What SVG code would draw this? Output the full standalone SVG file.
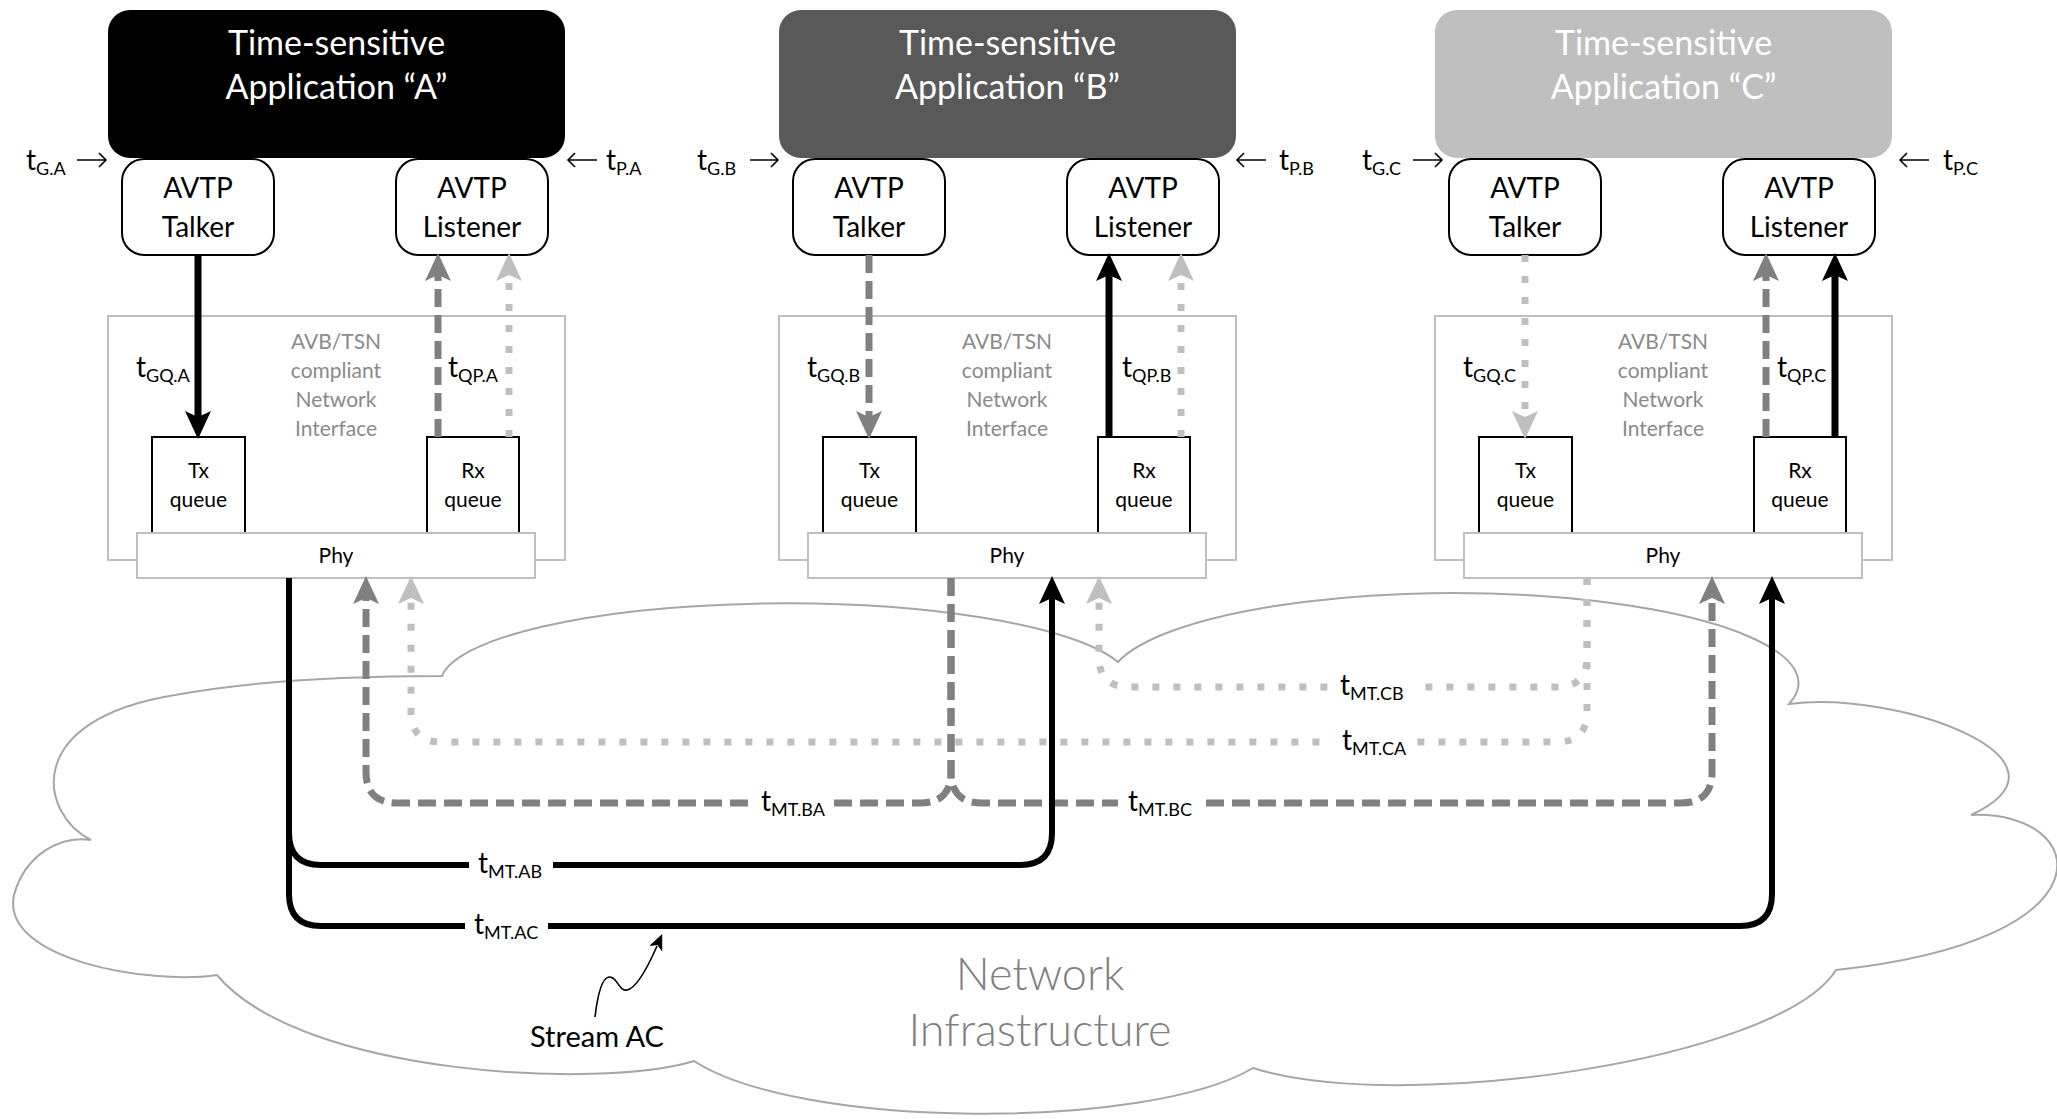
<svg xmlns="http://www.w3.org/2000/svg" width="2057" height="1119" viewBox="0 0 2057 1119">
  <defs>
    <style>
      text { font-family: Lato, "Liberation Sans", sans-serif; }
      .app { stroke: none; }
      .title { font-size: 34px; fill: #ffffff; text-anchor: middle; }
      .avtp { fill: #ffffff; stroke: #000000; stroke-width: 2; }
      .avtp-t { font-size: 28px; fill: #000000; text-anchor: middle; }
      .nic { fill: #ffffff; stroke: #bfbfbf; stroke-width: 2; }
      .nic-t { font-size: 21px; fill: #8a8a8a; text-anchor: middle; }
      .queue { fill: #ffffff; stroke: #000000; stroke-width: 2; }
      .phy { fill: #ffffff; stroke: #bfbfbf; stroke-width: 2; }
      .small-t { font-size: 21px; fill: #000000; text-anchor: middle; }
      .tl { font-size: 28px; fill: #000000; }
      .sub { font-size: 18px; }
      .cloud { fill: #ffffff; stroke: #a6a6a6; stroke-width: 2; }
      .net-t { font-size: 45px; font-weight: 300; fill: #808080; text-anchor: middle; }
      .stream-t { font-size: 29px; fill: #000000; text-anchor: middle; }
      .solid { fill: none; stroke: #000000; stroke-width: 7; marker-end: url(#ahBlack); }
      .solid-n { fill: none; stroke: #000000; stroke-width: 6; marker-end: url(#ahBlack); }
      .dashed { fill: none; stroke: #808080; stroke-width: 7; stroke-dasharray: 18 8; marker-end: url(#ahDark); }
      .dotted { fill: none; stroke: #bfbfbf; stroke-width: 7; stroke-dasharray: 7 14; marker-end: url(#ahLight); }
      .tick { fill: none; stroke: #000000; stroke-width: 1.6; }
      .lbl-bg { fill: #ffffff; stroke: none; }
    </style>
    <marker id="ahBlack" markerUnits="userSpaceOnUse" markerWidth="28" markerHeight="28" viewBox="0 0 28 28" refX="10" refY="14" orient="auto">
      <path d="M0,1 L28,14 L0,27 L6,14 z" fill="#000000"/>
    </marker>
    <marker id="ahDark" markerUnits="userSpaceOnUse" markerWidth="28" markerHeight="28" viewBox="0 0 28 28" refX="10" refY="14" orient="auto">
      <path d="M0,1 L28,14 L0,27 L6,14 z" fill="#808080"/>
    </marker>
    <marker id="ahLight" markerUnits="userSpaceOnUse" markerWidth="28" markerHeight="28" viewBox="0 0 28 28" refX="10" refY="14" orient="auto">
      <path d="M0,1 L28,14 L0,27 L6,14 z" fill="#bfbfbf"/>
    </marker>
    <marker id="ahSmall" markerUnits="userSpaceOnUse" markerWidth="16" markerHeight="14" viewBox="0 0 16 14" refX="3" refY="7" orient="auto">
      <path d="M0,0 L16,7 L0,14 L4,7 z" fill="#000000"/>
    </marker>
  </defs>

  <rect x="0" y="0" width="2057" height="1119" fill="#ffffff"/>

  <!-- network cloud -->
  <g id="network">
    <path class="cloud" d="M442,676 A345,80 0 0 1 1118,662 A345,90 0 0 1 1789,704 C1900,690 2090,760 1971,815 C2090,810 2120,940 1836,970 C1780,1060 1400,1115 1253,1068 C1150,1130 800,1130 694,1061 C600,1090 300,1075 217,975 C150,985 0,960 14,895 C25,855 60,835 91,840 C40,815 20,720 175,695 C240,683 330,676 442,676 Z"/>
    <text class="net-t" x="1040" y="990">Network</text>
    <text class="net-t" x="1040" y="1046">Infrastructure</text>
  </g>

  <!-- ===== Application A ===== -->
  <g id="nic-a">
    <rect class="nic" x="108" y="316" width="457" height="244"/>
    <text class="nic-t" x="336" y="349">AVB/TSN</text>
    <text class="nic-t" x="336" y="378">compliant</text>
    <text class="nic-t" x="336" y="407">Network</text>
    <text class="nic-t" x="336" y="436">Interface</text>
  </g>
  <g id="txq-a">
    <rect class="queue" x="152" y="437" width="93" height="96"/>
    <text class="small-t" x="198.5" y="478">Tx</text>
    <text class="small-t" x="198.5" y="507">queue</text>
  </g>
  <g id="rxq-a">
    <rect class="queue" x="427" y="437" width="92" height="96"/>
    <text class="small-t" x="473" y="478">Rx</text>
    <text class="small-t" x="473" y="507">queue</text>
  </g>
  <g id="phy-a">
    <rect class="phy" x="137" y="533" width="398" height="45"/>
    <text class="small-t" x="336" y="563">Phy</text>
  </g>
  <g id="app-a">
    <rect class="app" x="108" y="10" width="457" height="148" rx="22" fill="#000000"/>
    <text class="title" x="336.5" y="55">Time-sensitive</text>
    <text class="title" x="336.5" y="99">Application “A”</text>
  </g>
  <g id="talker-a">
    <rect class="avtp" x="122" y="159" width="152" height="96" rx="22"/>
    <text class="avtp-t" x="198" y="198">AVTP</text>
    <text class="avtp-t" x="198" y="237">Talker</text>
  </g>
  <g id="listener-a">
    <rect class="avtp" x="396" y="159" width="152" height="96" rx="22"/>
    <text class="avtp-t" x="472" y="198">AVTP</text>
    <text class="avtp-t" x="472" y="237">Listener</text>
  </g>

  <!-- ===== Application B ===== -->
  <g id="nic-b">
    <rect class="nic" x="779" y="316" width="457" height="244"/>
    <text class="nic-t" x="1007" y="349">AVB/TSN</text>
    <text class="nic-t" x="1007" y="378">compliant</text>
    <text class="nic-t" x="1007" y="407">Network</text>
    <text class="nic-t" x="1007" y="436">Interface</text>
  </g>
  <g id="txq-b">
    <rect class="queue" x="823" y="437" width="93" height="96"/>
    <text class="small-t" x="869.5" y="478">Tx</text>
    <text class="small-t" x="869.5" y="507">queue</text>
  </g>
  <g id="rxq-b">
    <rect class="queue" x="1098" y="437" width="92" height="96"/>
    <text class="small-t" x="1144" y="478">Rx</text>
    <text class="small-t" x="1144" y="507">queue</text>
  </g>
  <g id="phy-b">
    <rect class="phy" x="808" y="533" width="398" height="45"/>
    <text class="small-t" x="1007" y="563">Phy</text>
  </g>
  <g id="app-b">
    <rect class="app" x="779" y="10" width="457" height="148" rx="22" fill="#595959"/>
    <text class="title" x="1007.5" y="55">Time-sensitive</text>
    <text class="title" x="1007.5" y="99">Application “B”</text>
  </g>
  <g id="talker-b">
    <rect class="avtp" x="793" y="159" width="152" height="96" rx="22"/>
    <text class="avtp-t" x="869" y="198">AVTP</text>
    <text class="avtp-t" x="869" y="237">Talker</text>
  </g>
  <g id="listener-b">
    <rect class="avtp" x="1067" y="159" width="152" height="96" rx="22"/>
    <text class="avtp-t" x="1143" y="198">AVTP</text>
    <text class="avtp-t" x="1143" y="237">Listener</text>
  </g>

  <!-- ===== Application C ===== -->
  <g id="nic-c">
    <rect class="nic" x="1435" y="316" width="457" height="244"/>
    <text class="nic-t" x="1663" y="349">AVB/TSN</text>
    <text class="nic-t" x="1663" y="378">compliant</text>
    <text class="nic-t" x="1663" y="407">Network</text>
    <text class="nic-t" x="1663" y="436">Interface</text>
  </g>
  <g id="txq-c">
    <rect class="queue" x="1479" y="437" width="93" height="96"/>
    <text class="small-t" x="1525.5" y="478">Tx</text>
    <text class="small-t" x="1525.5" y="507">queue</text>
  </g>
  <g id="rxq-c">
    <rect class="queue" x="1754" y="437" width="92" height="96"/>
    <text class="small-t" x="1800" y="478">Rx</text>
    <text class="small-t" x="1800" y="507">queue</text>
  </g>
  <g id="phy-c">
    <rect class="phy" x="1464" y="533" width="398" height="45"/>
    <text class="small-t" x="1663" y="563">Phy</text>
  </g>
  <g id="app-c">
    <rect class="app" x="1435" y="10" width="457" height="148" rx="22" fill="#bfbfbf"/>
    <text class="title" x="1663.5" y="55">Time-sensitive</text>
    <text class="title" x="1663.5" y="99">Application “C”</text>
  </g>
  <g id="talker-c">
    <rect class="avtp" x="1449" y="159" width="152" height="96" rx="22"/>
    <text class="avtp-t" x="1525" y="198">AVTP</text>
    <text class="avtp-t" x="1525" y="237">Talker</text>
  </g>
  <g id="listener-c">
    <rect class="avtp" x="1723" y="159" width="152" height="96" rx="22"/>
    <text class="avtp-t" x="1799" y="198">AVTP</text>
    <text class="avtp-t" x="1799" y="237">Listener</text>
  </g>

  <!-- timestamp reference points -->
  <g id="timestamps">
    <path class="tick" d="M77,160 H106 M99,153 L106,160 L99,167"/>
    <path class="tick" d="M597,160 H568 M575,153 L568,160 L575,167"/>
    <path class="tick" d="M750,160 H778 M771,153 L778,160 L771,167"/>
    <path class="tick" d="M1266,160 H1237 M1244,153 L1237,160 L1244,167"/>
    <path class="tick" d="M1413,160 H1442 M1435,153 L1442,160 L1435,167"/>
    <path class="tick" d="M1929,160 H1900 M1907,153 L1900,160 L1907,167"/>
    <text class="tl" x="26" y="170">t<tspan class="sub" dy="5">G.A</tspan></text>
    <text class="tl" x="606" y="170">t<tspan class="sub" dy="5">P.A</tspan></text>
    <text class="tl" x="697" y="170">t<tspan class="sub" dy="5">G.B</tspan></text>
    <text class="tl" x="1279" y="170">t<tspan class="sub" dy="5">P.B</tspan></text>
    <text class="tl" x="1362" y="170">t<tspan class="sub" dy="5">G.C</tspan></text>
    <text class="tl" x="1943" y="170">t<tspan class="sub" dy="5">P.C</tspan></text>
  </g>

  <!-- connectors -->
  <g id="connectors">
    <!-- inside the network interfaces -->
    <path class="solid" d="M198,255 V421"/>
    <path class="dashed" d="M438,437 V271"/>
    <path class="dotted" d="M509,437 V271"/>
    <path class="dashed" d="M869,255 V421"/>
    <path class="solid" d="M1109,437 V271"/>
    <path class="dotted" d="M1181,437 V271"/>
    <path class="dotted" d="M1525,255 V421"/>
    <path class="dashed" d="M1766,437 V271"/>
    <path class="solid" d="M1835,437 V271"/>

    <!-- streams across the network -->
    <path class="dotted" d="M1587,578 V657 Q1587,687 1557,687 H1129 Q1099,687 1099,657 V594"/>
    <path class="dotted" d="M1587,578 V712 Q1587,742 1557,742 H441 Q411,742 411,712 V594"/>
    <path class="dashed" d="M951,578 V772 Q951,803 920,803 H397 Q366,803 366,772 V594"/>
    <path class="dashed" d="M951,578 V772 Q951,803 982,803 H1681 Q1712,803 1712,772 V594"/>
    <path class="solid-n" d="M289,578 V833 Q289,865 321,865 H1020 Q1052,865 1052,833 V594"/>
    <path class="solid-n" d="M289,578 V894 Q289,926 321,926 H1740 Q1772,926 1772,894 V594"/>

    <!-- stream annotation -->
    <path class="tick" d="M595,1017 C597,1000 601,978 609,977 C617,976 619,992 627,990 C638,988 650,962 657,946" marker-end="url(#ahSmall)"/>
  </g>

  <!-- connector labels -->
  <g id="labels">
    <text class="tl" x="136" y="377">t<tspan class="sub" dy="5">GQ.A</tspan></text>
    <text class="tl" x="448" y="377">t<tspan class="sub" dy="5">QP.A</tspan></text>
    <text class="tl" x="807" y="377">t<tspan class="sub" dy="5">GQ.B</tspan></text>
    <text class="tl" x="1122" y="377">t<tspan class="sub" dy="5">QP.B</tspan></text>
    <text class="tl" x="1463" y="377">t<tspan class="sub" dy="5">GQ.C</tspan></text>
    <text class="tl" x="1777" y="377">t<tspan class="sub" dy="5">QP.C</tspan></text>

    <rect class="lbl-bg" x="1330" y="677" width="84" height="20"/>
    <text class="tl" x="1340" y="695">t<tspan class="sub" dy="5">MT.CB</tspan></text>
    <rect class="lbl-bg" x="1332" y="732" width="84" height="20"/>
    <text class="tl" x="1342" y="750">t<tspan class="sub" dy="5">MT.CA</tspan></text>
    <rect class="lbl-bg" x="751" y="793" width="80" height="20"/>
    <text class="tl" x="761" y="811">t<tspan class="sub" dy="5">MT.BA</tspan></text>
    <rect class="lbl-bg" x="1118" y="793" width="81" height="20"/>
    <text class="tl" x="1128" y="811">t<tspan class="sub" dy="5">MT.BC</tspan></text>
    <rect class="lbl-bg" x="469" y="855" width="84" height="20"/>
    <text class="tl" x="478" y="873">t<tspan class="sub" dy="5">MT.AB</tspan></text>
    <rect class="lbl-bg" x="465" y="916" width="83" height="20"/>
    <text class="tl" x="474" y="934">t<tspan class="sub" dy="5">MT.AC</tspan></text>

    <text class="stream-t" x="597" y="1047">Stream AC</text>
  </g>
</svg>
